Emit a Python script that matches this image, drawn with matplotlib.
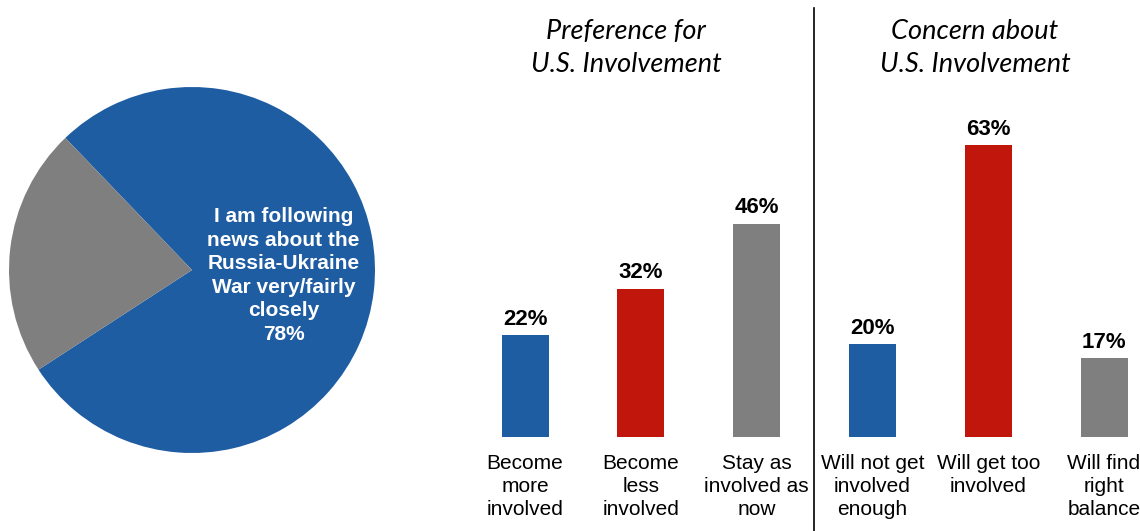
import matplotlib
matplotlib.use("Agg")
import matplotlib.pyplot as plt

W, H = 1140, 531
DPI = 100

# Pie: share following the war news
pie_values = [78, 22]
pie_colors = ["#1F5DA3", "#7F7F7F"]
pie_label = "I am following\nnews about the\nRussia-Ukraine\nWar very/fairly\nclosely\n78%"

# Bars: two question groups
categories = [
    "Become\nmore\ninvolved",
    "Become\nless\ninvolved",
    "Stay as\ninvolved as\nnow",
    "Will not get\ninvolved\nenough",
    "Will get too\ninvolved",
    "Will find\nright\nbalance",
]
values = [22, 32, 46, 20, 63, 17]
bar_colors = ["#1F5DA3", "#C0160C", "#7F7F7F", "#1F5DA3", "#C0160C", "#7F7F7F"]
group_titles = ["Preference for\nU.S. Involvement", "Concern about\nU.S. Involvement"]

plt.rcParams["font.family"] = ["Liberation Sans", "DejaVu Sans"]

fig = plt.figure(figsize=(W / DPI, H / DPI), dpi=DPI)


def fig_rect(x0, y0, x1, y1):
    """Convert a pixel box (top-left origin) to figure fractions."""
    return [x0 / W, 1 - y1 / H, (x1 - x0) / W, (y1 - y0) / H]


# ---- pie ----
cx, cy, r = 192, 270, 183
pax = fig.add_axes(fig_rect(cx - r, cy - r, cx + r, cy + r))
pax.pie(pie_values, colors=pie_colors, startangle=213, counterclock=True,
        radius=1.0, wedgeprops=dict(linewidth=0))
pax.set_xlim(-1, 1)
pax.set_ylim(-1, 1)
pax.set_aspect("equal")
pax.axis("off")
pax.text(0.5, -0.03, pie_label, ha="center", va="center", color="white",
         fontsize=15, fontweight="bold", linespacing=1.3)

# ---- bars ----
step = 115.8  # pixels between bar centres
first = 525
x_left_px, base_px = 467, 437
px_per_unit = 4.63
ax = fig.add_axes(fig_rect(x_left_px, 0, W, base_px))
x0 = -(first - x_left_px) / step
ax.set_xlim(x0, x0 + (W - x_left_px) / step)
ax.set_ylim(0, base_px / px_per_unit)
xs = list(range(len(values)))
ax.bar(xs, values, width=47 / step, color=bar_colors, linewidth=0)
for x, v in zip(xs, values):
    ax.annotate(f"{v}%", (x, v), xytext=(0, 4), textcoords="offset points",
                ha="center", va="bottom", fontsize=16, fontweight="bold")
for x, c in zip(xs, categories):
    ax.annotate(c, (x, 0), xytext=(0, -12), textcoords="offset points",
                ha="center", va="top", fontsize=15, linespacing=1.29,
                annotation_clip=False)
for s in ax.spines.values():
    s.set_visible(False)
ax.set_xticks([])
ax.set_yticks([])
ax.patch.set_visible(False)

# divider between the two groups
div_x = 2.5 + (814 - (first + 2.5 * step)) / step
ax.plot([div_x, div_x], [(base_px - 8) / px_per_unit, -100 / px_per_unit],
        color="black", linewidth=1.2, clip_on=False)

# group titles
title_font = dict(family=["Lato", "DejaVu Sans"], style="italic", fontsize=19.5)
fig.text(626 / W, 1 - 48 / H, group_titles[0], ha="center", va="center",
         linespacing=1.38, **title_font)
fig.text(975 / W, 1 - 48 / H, group_titles[1], ha="center", va="center",
         linespacing=1.38, **title_font)

fig.savefig("out.png", dpi=DPI)
